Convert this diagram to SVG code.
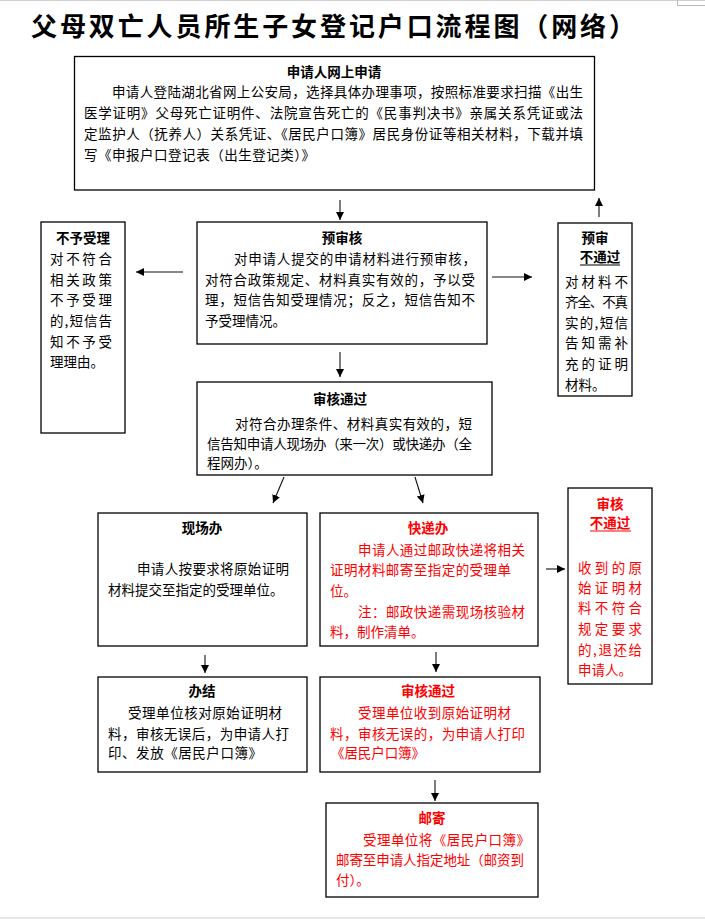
<svg xmlns="http://www.w3.org/2000/svg" width="705" height="919" viewBox="0 0 705 919">
<style>
text{font-family:"Noto Sans CJK SC","Noto Sans",sans-serif;font-size:13.5px;fill:#000}
.b{font-weight:bold}
.c{text-anchor:middle}
.r{fill:#ff0000}
.box{fill:#fff;stroke:#000;stroke-width:1.3}
.ln{stroke:#111;stroke-width:1.1;fill:none}
.ul{stroke-width:1.2;fill:none}
</style>
<defs>
<marker id="ah" viewBox="0 0 10 10" refX="10" refY="5" markerWidth="8" markerHeight="8" markerUnits="userSpaceOnUse" orient="auto">
<path d="M0,0 L10,5 L0,10 z" fill="#000"/>
</marker>
</defs>
<rect width="705" height="919" fill="#fff"/>
<line x1="0" y1="0.5" x2="705" y2="0.5" stroke="#d0d0d0"/>
<path d="M677.5,0 V5.5 H705" stroke="#b8b8b8" fill="none"/>
<line x1="0" y1="918" x2="705" y2="918" stroke="#e6e6e6" stroke-width="2"/>

<text id="title" x="31" y="36" class="b" style="font-size:26px" textLength="604" lengthAdjust="spacing">父母双亡人员所生子女登记户口流程图（网络）</text>

<g id="connectors">
<line class="ln" x1="340" y1="200" x2="340" y2="220" marker-end="url(#ah)"/>
<line class="ln" x1="183" y1="272" x2="136" y2="272" marker-end="url(#ah)" stroke-width="1.4" stroke="#444"/>
<line class="ln" x1="492" y1="277" x2="532" y2="277" marker-end="url(#ah)"/>
<line class="ln" x1="599" y1="217" x2="599" y2="198" marker-end="url(#ah)"/>
<line class="ln" x1="340" y1="352" x2="340" y2="377" marker-end="url(#ah)"/>
<line class="ln" x1="284" y1="477" x2="273" y2="503" marker-end="url(#ah)"/>
<line class="ln" x1="415" y1="477" x2="423" y2="503" marker-end="url(#ah)"/>
<line class="ln" x1="546" y1="569" x2="565" y2="569" marker-end="url(#ah)" stroke-width="1.4" stroke="#444"/>
<line class="ln" x1="205" y1="655" x2="205" y2="673" marker-end="url(#ah)"/>
<line class="ln" x1="436" y1="652" x2="436" y2="672" marker-end="url(#ah)"/>
<line class="ln" x1="435" y1="780" x2="435" y2="801" marker-end="url(#ah)"/>
</g>

<g id="apply">
<rect class="box" x="74.5" y="56.5" width="520" height="133.5"/>
<text x="334" y="77" class="b c">申请人网上申请</text>
<text x="112" y="97" textLength="471" lengthAdjust="spacing">申请人登陆湖北省网上公安局，选择具体办理事项，按照标准要求扫描《出生</text>
<text x="84" y="118" textLength="499" lengthAdjust="spacing">医学证明》父母死亡证明件、法院宣告死亡的《民事判决书》亲属关系凭证或法</text>
<text x="84" y="139" textLength="499" lengthAdjust="spacing">定监护人（抚养人）关系凭证、《居民户口簿》居民身份证等相关材料，下载并填</text>
<text x="84" y="160" textLength="231" lengthAdjust="spacing">写《申报户口登记表（出生登记类）》</text>
</g>

<g id="reject">
<rect class="box" x="41" y="222" width="84" height="211"/>
<text x="83" y="243" class="b c">不予受理</text>
<text x="50" y="264" textLength="62" lengthAdjust="spacing">对不符合</text>
<text x="50" y="285" textLength="62" lengthAdjust="spacing">相关政策</text>
<text x="50" y="305" textLength="62" lengthAdjust="spacing">不予受理</text>
<text x="50" y="326" textLength="62" lengthAdjust="spacing">的,短信告</text>
<text x="50" y="347" textLength="62" lengthAdjust="spacing">知不予受</text>
<text x="50" y="367">理理由。</text>
</g>

<g id="precheck">
<rect class="box" x="197" y="222" width="290" height="122"/>
<text x="342" y="243" class="b c">预审核</text>
<text x="234" y="264" textLength="242" lengthAdjust="spacing">对申请人提交的申请材料进行预审核，</text>
<text x="205" y="285" textLength="270" lengthAdjust="spacing">对符合政策规定、材料真实有效的，予以受</text>
<text x="205" y="305" textLength="270" lengthAdjust="spacing">理，短信告知受理情况；反之，短信告知不</text>
<text x="205" y="326">予受理情况。</text>
</g>

<g id="precheck-fail">
<rect class="box" x="558" y="223" width="74" height="173"/>
<text x="595" y="243" class="b c">预审</text>
<text x="600" y="262" class="b c">不通过</text>
<line x1="580" y1="265" x2="620" y2="265" stroke="#000" class="ul"/>
<text x="565" y="287" textLength="63" lengthAdjust="spacing">对材料不</text>
<text x="565" y="307" textLength="63" lengthAdjust="spacing">齐全、不真</text>
<text x="565" y="328" textLength="63" lengthAdjust="spacing">实的,短信</text>
<text x="565" y="348" textLength="63" lengthAdjust="spacing">告知需补</text>
<text x="565" y="369" textLength="63" lengthAdjust="spacing">充的证明</text>
<text x="565" y="390">材料。</text>
</g>

<g id="approved">
<rect class="box" x="197" y="382" width="295" height="93"/>
<text x="340" y="404" class="b c">审核通过</text>
<text x="235" y="429" textLength="237" lengthAdjust="spacing">对符合办理条件、材料真实有效的，短</text>
<text x="207" y="449" textLength="265" lengthAdjust="spacing">信告知申请人现场办（来一次）或快递办（全</text>
<text x="207" y="468">程网办）。</text>
</g>

<g id="onsite">
<rect class="box" x="98" y="513" width="209" height="133"/>
<text x="202" y="533" class="b c">现场办</text>
<text x="137" y="574" textLength="152" lengthAdjust="spacing">申请人按要求将原始证明</text>
<text x="108" y="595">材料提交至指定的受理单位。</text>
</g>

<g id="express">
<rect class="box" x="320" y="513" width="218" height="133"/>
<text x="428" y="533" class="b c r">快递办</text>
<text x="358" y="555" class="r" textLength="167" lengthAdjust="spacing">申请人通过邮政快递将相关</text>
<text x="330" y="575" class="r" textLength="181" lengthAdjust="spacing">证明材料邮寄至指定的受理单</text>
<text x="330" y="596" class="r">位。</text>
<text x="358" y="617" class="r" textLength="167" lengthAdjust="spacing">注：邮政快递需现场核验材</text>
<text x="330" y="637" class="r">料，制作清单。</text>
</g>

<g id="review-fail">
<rect class="box" x="568" y="488" width="84" height="196"/>
<text x="610" y="509" class="b c r">审核</text>
<text x="610" y="528" class="b c r">不通过</text>
<line x1="590" y1="531" x2="631" y2="531" stroke="#ff0000" class="ul"/>
<text x="578" y="573" class="r" textLength="64" lengthAdjust="spacing">收到的原</text>
<text x="578" y="593" class="r" textLength="64" lengthAdjust="spacing">始证明材</text>
<text x="578" y="613" class="r" textLength="64" lengthAdjust="spacing">料不符合</text>
<text x="578" y="634" class="r" textLength="64" lengthAdjust="spacing">规定要求</text>
<text x="578" y="655" class="r" textLength="64" lengthAdjust="spacing">的,退还给</text>
<text x="578" y="675" class="r">申请人。</text>
</g>

<g id="done">
<rect class="box" x="98" y="677" width="209" height="95"/>
<text x="202" y="696" class="b c">办结</text>
<text x="128" y="718" textLength="154" lengthAdjust="spacing">受理单位核对原始证明材</text>
<text x="108" y="739" textLength="181" lengthAdjust="spacing">料，审核无误后，为申请人打</text>
<text x="108" y="758" textLength="154" lengthAdjust="spacing">印、发放《居民户口簿》</text>
</g>

<g id="review-pass">
<rect class="box" x="320" y="677" width="220" height="95"/>
<text x="428" y="696" class="b c r">审核通过</text>
<text x="358" y="718" class="r" textLength="153" lengthAdjust="spacing">受理单位收到原始证明材</text>
<text x="330" y="739" class="r" textLength="195" lengthAdjust="spacing">料，审核无误的，为申请人打印</text>
<text x="331" y="758" class="r" textLength="94" lengthAdjust="spacing">《居民户口簿》</text>
</g>

<g id="mail">
<rect class="box" x="326" y="803" width="212" height="94"/>
<text x="432" y="823" class="b c r">邮寄</text>
<text x="363" y="845" class="r" textLength="167" lengthAdjust="spacing">受理单位将《居民户口簿》</text>
<text x="336" y="865" class="r" textLength="188" lengthAdjust="spacing">邮寄至申请人指定地址（邮资到</text>
<text x="336" y="885" class="r">付）。</text>
</g>
</svg>
